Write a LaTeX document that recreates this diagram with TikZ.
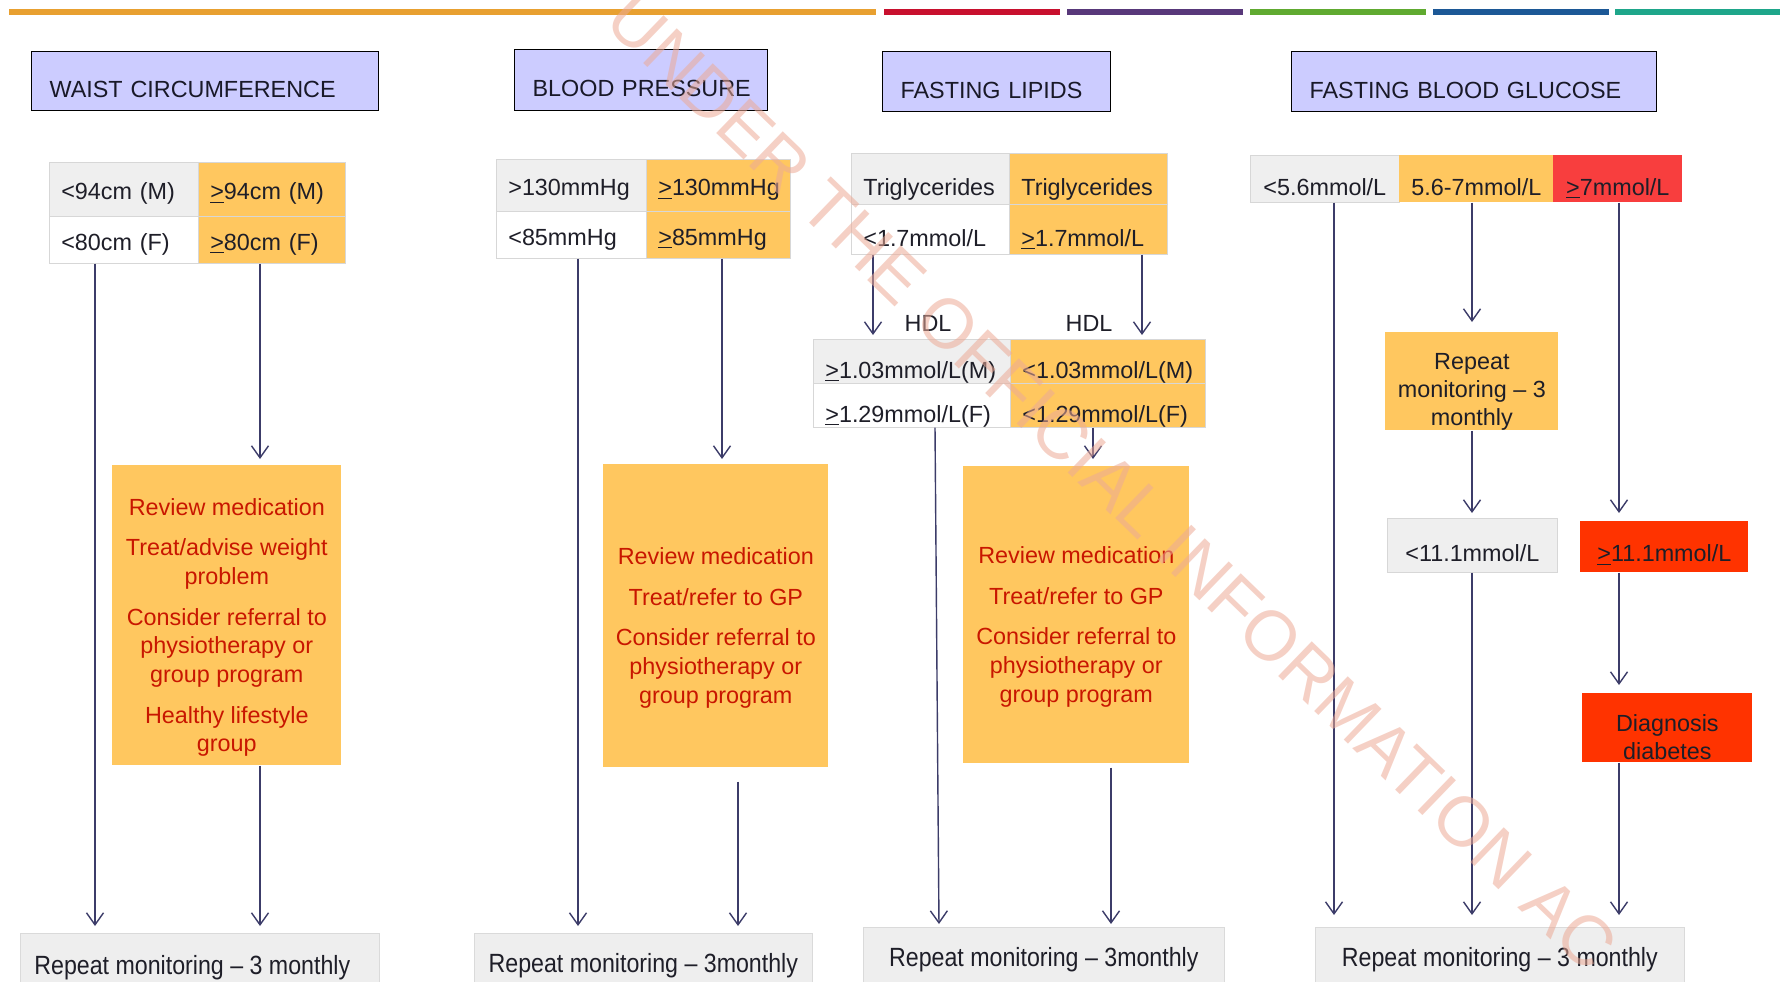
\documentclass[tikz,border=0pt]{standalone}
\usepackage{fontspec}
\setmainfont{Liberation Sans}
\newfontfamily\narrowfont[FakeStretch=0.88]{Liberation Sans}
\usetikzlibrary{arrows.meta}
\definecolor{headfill}{RGB}{204,204,255}
\definecolor{headtext}{RGB}{25,25,40}
\definecolor{orangefill}{RGB}{255,199,95}
\definecolor{cellgrey}{RGB}{239,239,239}
\definecolor{cellline}{RGB}{215,215,215}
\definecolor{celltext}{RGB}{30,30,40}
\definecolor{redseven}{RGB}{248,62,62}
\definecolor{redhigh}{RGB}{255,51,0}
\definecolor{actred}{RGB}{200,22,0}
\definecolor{arrowcol}{RGB}{60,60,105}
\definecolor{bottomfill}{RGB}{238,238,238}
\definecolor{bottomline}{RGB}{218,218,218}
\definecolor{wmcol}{RGB}{236,170,150}
\definecolor{barorange}{RGB}{232,160,48}
\definecolor{barred}{RGB}{200,16,46}
\definecolor{barpurple}{RGB}{88,56,122}
\definecolor{bargreen}{RGB}{96,170,48}
\definecolor{barblue}{RGB}{28,88,150}
\definecolor{barteal}{RGB}{30,166,138}
\newcommand\uge{\underline{>}}
\begin{document}
\begin{tikzpicture}[x=0.02cm, y=-0.02cm, font=\fontsize{13.3}{16}\selectfont,
  headbox/.style 2 args={draw=black, line width=0.7pt, fill=headfill, anchor=north west, inner xsep=0.36cm, inner ysep=0pt,
    text width=#1cm-0.72cm, minimum height=#2cm, text height=0.66cm, text depth=0pt, align=left, text=headtext},
  cellbox/.style 2 args={draw=cellline, anchor=north west, inner xsep=0.24cm, inner ysep=0pt,
    text width=#1cm-0.48cm, minimum height=#2cm, align=left, text=celltext},
  plainbox/.style 2 args={anchor=north west, inner sep=0pt, minimum width=#1cm, minimum height=#2cm, align=center, text=celltext},
  textlow/.style={text height=#1cm, text depth=0pt},
  actbox/.style={fill=orangefill, text=actred, font=\fontsize{13.3}{16.3}\selectfont},
  bottombox/.style={draw=bottomline, fill=bottomfill, font=\narrowfont\fontsize{15}{18}\selectfont},
  arr/.style={draw=arrowcol, line width=0.8pt, -{Straight Barb[length=0.24cm, width=0.34cm]}},
]
\useasboundingbox (0,0) rectangle (1780,981);

\foreach \xa/\xb/\col in {9/876/barorange, 884/1060/barred, 1067/1243/barpurple, 1250/1426/bargreen, 1433/1609/barblue, 1615/1780/barteal}
  \draw[\col, line width=0.11cm] (\xa,12) -- (\xb,12);

% headers
\node[headbox={6.94}{1.18}] (hwaist) at (31,51) {\mbox{WAIST CIRCUMFERENCE}};
\node[headbox={5.06}{1.22}] (hbp) at (514,49) {\mbox{BLOOD PRESSURE}};
\node[headbox={4.56}{1.2}] (hlip) at (882,51) {\mbox{FASTING LIPIDS}};
\node[headbox={7.3}{1.2}] (hglu) at (1291,51) {\mbox{FASTING BLOOD GLUCOSE}};

% waist
\node[cellbox={2.98}{1.08}, textlow=0.42, fill=cellgrey] (w11) at (49,162) {<94cm (M)};
\node[cellbox={2.94}{1.08}, textlow=0.42, fill=orangefill] (w12) at (198,162) {\uge94cm (M)};
\node[cellbox={2.98}{0.94}, textlow=0.42, fill=white] (w21) at (49,216) {<80cm (F)};
\node[cellbox={2.94}{0.94}, textlow=0.42, fill=orangefill] (w22) at (198,216) {\uge80cm (F)};
\node[plainbox={4.58}{6.0}, actbox] (wact) at (112,465) {\rule{0pt}{0.82cm}Review medication\\[0.24cm]
  Treat/advise weight\\problem\\[0.24cm] Consider referral to\\physiotherapy or\\group program\\[0.24cm]
  Healthy lifestyle\\group};
\node[plainbox={7.18}{1.36}, bottombox] (wbot) at (20,933) {Repeat monitoring – 3 monthly\hspace*{0.3cm}};

% blood pressure
\node[cellbox={3.0}{1.04}, textlow=0.42, fill=cellgrey] (b11) at (496,159) {>130mmHg};
\node[cellbox={2.88}{1.04}, textlow=0.42, fill=orangefill] (b12) at (646,159) {\uge130mmHg};
\node[cellbox={3.0}{0.94}, textlow=0.42, fill=white] (b21) at (496,211) {<85mmHg};
\node[cellbox={2.88}{0.94}, textlow=0.42, fill=orangefill] (b22) at (646,211) {\uge85mmHg};
\node[plainbox={4.5}{6.06}, actbox] (bact) at (603,464) {\rule{0pt}{0.82cm}Review medication\\[0.24cm]
  Treat/refer to GP\\[0.24cm] Consider referral to\\physiotherapy or\\group program};
\node[plainbox={6.76}{1.28}, bottombox] (bbot) at (474,933) {Repeat monitoring – 3monthly};

% lipids
\node[cellbox={3.16}{1.02}, textlow=0.68, fill=cellgrey] (l11) at (851,153) {Triglycerides};
\node[cellbox={3.16}{1.02}, textlow=0.68, fill=orangefill] (l12) at (1009,153) {Triglycerides};
\node[cellbox={3.16}{1.0}, textlow=0.68, fill=white] (l21) at (851,204) {<1.7mmol/L};
\node[cellbox={3.16}{1.0}, textlow=0.68, fill=orangefill] (l22) at (1009,204) {\uge1.7mmol/L};
\node[text=celltext] (hdla) at (928,323) {HDL};
\node[text=celltext] (hdlb) at (1089,323) {HDL};
\node[cellbox={3.94}{0.88}, textlow=0.68, fill=cellgrey] (h11) at (813,339) {\uge1.03mmol/L(M)};
\node[cellbox={3.9}{0.88}, textlow=0.68, fill=orangefill] (h12) at (1010,339) {<1.03mmol/L(M)};
\node[cellbox={3.94}{0.88}, textlow=0.68, fill=white] (h21) at (813,383) {\uge1.29mmol/L(F)};
\node[cellbox={3.9}{0.88}, textlow=0.68, fill=orangefill] (h22) at (1010,383) {<1.29mmol/L(F)};
\node[plainbox={4.52}{5.94}, actbox] (lact) at (963,466) {\rule{0pt}{0.82cm}Review medication\\[0.24cm]
  Treat/refer to GP\\[0.24cm] Consider referral to\\physiotherapy or\\group program};
\node[plainbox={7.22}{1.28}, bottombox] (lbot) at (863,927) {Repeat monitoring – 3monthly};

% glucose
\node[plainbox={2.98}{0.94}, textlow=0.66, draw=cellline, fill=cellgrey] (g1) at (1250,155) {<5.6mmol/L};
\node[plainbox={3.08}{0.94}, textlow=0.66, fill=orangefill] (g2) at (1399,155) {5.6-7mmol/L};
\node[plainbox={2.58}{0.94}, textlow=0.66, fill=redseven] (g3) at (1553,155) {\uge7mmol/L};
\node[plainbox={3.46}{1.92}, fill=orangefill] (grep) at (1385,332) {\rule{0pt}{0.74cm}Repeat\\monitoring – 3\\monthly};
\node[plainbox={3.4}{1.08}, textlow=0.64, draw=cellline, fill=cellgrey] (glow) at (1387,518) {<11.1mmol/L};
\node[plainbox={3.36}{1.02}, textlow=0.6, fill=redhigh] (ghigh) at (1580,521) {\uge11.1mmol/L};
\node[plainbox={3.4}{1.38}, fill=redhigh] (gdiag) at (1582,693) {\rule{0pt}{0.7cm}Diagnosis\\diabetes};
\node[plainbox={7.38}{1.28}, bottombox] (gbot) at (1315,927) {Repeat monitoring – 3 monthly};

% arrows
\foreach \xx/\ya/\yb/\sa/\sb in {95/w21/wbot/0/0.14, 260/w22/wact/0/0.12, 260/wact/wbot/0/0.14,
    578/b21/bbot/0/0.14, 722/b22/bact/0/0.1, 738/bact/bbot/0.28/0.14,
    873/l21/h11/0/0.08, 1142/l22/h12/0/0.08, 1093/h22/lact/0/0.14, 1111/lact/lbot/0.08/0.06,
    1334/g1/gbot/0/0.24, 1472/g2/grep/0/0.2, 1472/grep/glow/0/0.1, 1472/glow/gbot/0/0.24,
    1619/g3/ghigh/0/0.16, 1619/ghigh/gdiag/0/0.16, 1619/gdiag/gbot/0/0.24}
  \draw[arr, shorten <=\sa cm, shorten >=\sb cm] (\xx,0 |- \ya.south) -- (\xx,0 |- \yb.north);
\draw[arr, shorten >=0.06cm] (935,0 |- h21.south) -- (939,0 |- lbot.north);

\node[rotate=-44, text=wmcol, opacity=0.55, font=\fontsize{40}{48}\selectfont] (wmark) at (1112,482) {UNDER THE OFFICIAL INFORMATION AC};
\end{tikzpicture}
\end{document}
